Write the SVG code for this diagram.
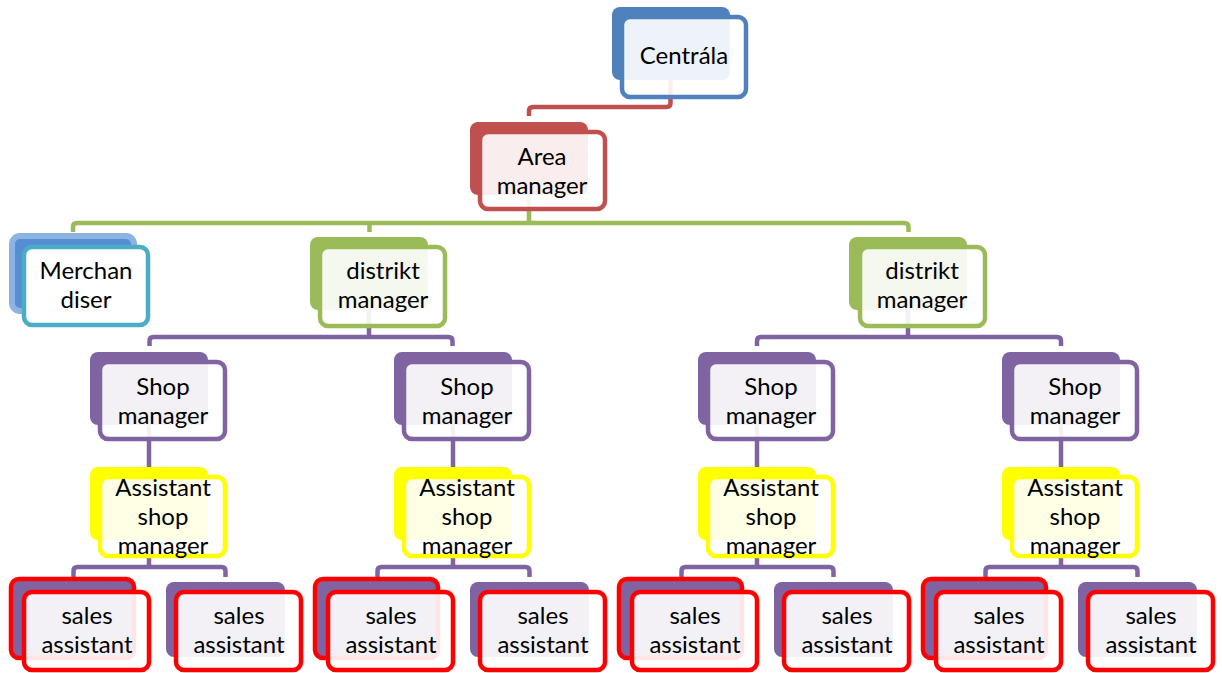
<svg xmlns="http://www.w3.org/2000/svg" width="1222" height="673" viewBox="0 0 1222 673">
<style>
.t{font-family:Lato,"Open Sans","Liberation Sans",sans-serif;font-size:24px;fill:#000;text-anchor:middle}
.c{fill:none;stroke-width:4.5;stroke-linejoin:round}
.f{stroke-width:4.5;fill:#fff;fill-opacity:0.9}
.b{stroke:none}
</style>
<rect width="1222" height="673" fill="#fff"/>
<g id="connectors">
<path class="c" stroke="#C0504D" d="M670.5,80 V103 Q670.5,107 666.5,107 H533 Q529,107 529,111 V116"/>
<path class="c" stroke="#9BBB59" d="M529,193 V223 M73,232 V227 Q73,223 77,223 H904.5 Q908.5,223 908.5,227 V232 M369.5,223 V232"/>
<path class="c" stroke="#8064A2" d="M369,310 V337 M149.5,346 V341 Q149.5,337 153.5,337 H448.5 Q452.5,337 452.5,341 V346"/>
<path class="c" stroke="#8064A2" d="M908,310 V337 M757,346 V341 Q757,337 761,337 H1057 Q1061,337 1061,341 V346"/>
<path class="c" stroke="#8064A2" d="M149,425 V467 M453,425 V467 M757,425 V467 M1061,425 V467"/>
<path class="c" stroke="#8064A2" d="M149,540 V567 M73.5,577 V571 Q73.5,567 77.5,567 H221.5 Q225.5,567 225.5,571 V577"/>
<path class="c" stroke="#8064A2" d="M453,540 V567 M377.5,577 V571 Q377.5,567 381.5,567 H525.5 Q529.5,567 529.5,571 V577"/>
<path class="c" stroke="#8064A2" d="M757,540 V567 M681.5,577 V571 Q681.5,567 685.5,567 H829.5 Q833.5,567 833.5,571 V577"/>
<path class="c" stroke="#8064A2" d="M1061,540 V567 M985.5,577 V571 Q985.5,567 989.5,567 H1133.5 Q1137.5,567 1137.5,571 V577"/>
</g>
<g id="centrala">
<rect class="b" x="612" y="7" width="118" height="73" rx="8" fill="#4F81BD"/>
<rect class="f" x="622" y="17" width="124" height="80" rx="8" stroke="#4F81BD"/>
<text class="t" x="684" y="64">Centrála</text>
</g>
<g id="area">
<rect class="b" x="470" y="122" width="118" height="73" rx="8" fill="#C0504D"/>
<rect class="f" x="480" y="132" width="125" height="77" rx="8" stroke="#C0504D"/>
<text class="t" x="542" y="165">Area</text>
<text class="t" x="542" y="194">manager</text>
</g>
<g id="merchandiser">
<rect x="12" y="236" width="122" height="75" rx="8" fill="#558ED5" stroke="#8DB3E2" stroke-width="6"/>
<rect x="24" y="247" width="124" height="78" rx="8" fill="#fff" stroke="#4BACC6" stroke-width="4.5"/>
<text class="t" x="86" y="279">Merchan</text>
<text class="t" x="86" y="308">diser</text>
</g>
<g id="distrikt1">
<rect class="b" x="310" y="237" width="118" height="73" rx="8" fill="#9BBB59"/>
<rect class="f" x="320" y="247" width="125" height="79" rx="8" stroke="#9BBB59"/>
<text class="t" x="383" y="279">distrikt</text>
<text class="t" x="383" y="308">manager</text>
</g>
<g id="distrikt2">
<rect class="b" x="849" y="237" width="118" height="73" rx="8" fill="#9BBB59"/>
<rect class="f" x="860" y="247" width="125" height="79" rx="8" stroke="#9BBB59"/>
<text class="t" x="922" y="279">distrikt</text>
<text class="t" x="922" y="308">manager</text>
</g>
<g id="shop1">
<rect class="b" x="90" y="352" width="118" height="73" rx="8" fill="#8064A2"/>
<rect class="f" x="100" y="362" width="125" height="77" rx="8" stroke="#8064A2"/>
<text class="t" x="163" y="395">Shop</text>
<text class="t" x="163" y="424">manager</text>
</g>
<g id="shop2">
<rect class="b" x="394" y="352" width="118" height="73" rx="8" fill="#8064A2"/>
<rect class="f" x="404" y="362" width="125" height="77" rx="8" stroke="#8064A2"/>
<text class="t" x="467" y="395">Shop</text>
<text class="t" x="467" y="424">manager</text>
</g>
<g id="shop3">
<rect class="b" x="698" y="352" width="118" height="73" rx="8" fill="#8064A2"/>
<rect class="f" x="708" y="362" width="125" height="77" rx="8" stroke="#8064A2"/>
<text class="t" x="771" y="395">Shop</text>
<text class="t" x="771" y="424">manager</text>
</g>
<g id="shop4">
<rect class="b" x="1002" y="352" width="118" height="73" rx="8" fill="#8064A2"/>
<rect class="f" x="1012" y="362" width="125" height="77" rx="8" stroke="#8064A2"/>
<text class="t" x="1075" y="395">Shop</text>
<text class="t" x="1075" y="424">manager</text>
</g>
<g id="assistant1">
<rect class="b" x="90" y="467" width="118" height="73" rx="8" fill="#FFFF00"/>
<rect class="f" x="100" y="477" width="125" height="79" rx="8" stroke="#FFFF00"/>
<text class="t" x="163" y="496">Assistant</text>
<text class="t" x="163" y="525">shop</text>
<text class="t" x="163" y="554">manager</text>
</g>
<g id="assistant2">
<rect class="b" x="394" y="467" width="118" height="73" rx="8" fill="#FFFF00"/>
<rect class="f" x="404" y="477" width="125" height="79" rx="8" stroke="#FFFF00"/>
<text class="t" x="467" y="496">Assistant</text>
<text class="t" x="467" y="525">shop</text>
<text class="t" x="467" y="554">manager</text>
</g>
<g id="assistant3">
<rect class="b" x="698" y="467" width="118" height="73" rx="8" fill="#FFFF00"/>
<rect class="f" x="708" y="477" width="125" height="79" rx="8" stroke="#FFFF00"/>
<text class="t" x="771" y="496">Assistant</text>
<text class="t" x="771" y="525">shop</text>
<text class="t" x="771" y="554">manager</text>
</g>
<g id="assistant4">
<rect class="b" x="1002" y="467" width="118" height="73" rx="8" fill="#FFFF00"/>
<rect class="f" x="1012" y="477" width="125" height="79" rx="8" stroke="#FFFF00"/>
<text class="t" x="1075" y="496">Assistant</text>
<text class="t" x="1075" y="525">shop</text>
<text class="t" x="1075" y="554">manager</text>
</g>
<g id="sales1">
<rect x="11" y="579" width="123" height="79" rx="8" fill="#8064A2" stroke="#FF0000" stroke-width="4.5"/>
<rect class="f" x="24" y="592" width="125" height="78" rx="8" stroke="#FF0000"/>
<text class="t" x="87" y="624">sales</text>
<text class="t" x="87" y="653">assistant</text>
</g>
<g id="sales2">
<rect class="b" x="166" y="582" width="119" height="75" rx="8" fill="#8064A2"/>
<rect class="f" x="176" y="592" width="125" height="78" rx="8" stroke="#FF0000"/>
<text class="t" x="239" y="624">sales</text>
<text class="t" x="239" y="653">assistant</text>
</g>
<g id="sales3">
<rect x="315" y="579" width="123" height="79" rx="8" fill="#8064A2" stroke="#FF0000" stroke-width="4.5"/>
<rect class="f" x="328" y="592" width="125" height="78" rx="8" stroke="#FF0000"/>
<text class="t" x="391" y="624">sales</text>
<text class="t" x="391" y="653">assistant</text>
</g>
<g id="sales4">
<rect class="b" x="470" y="582" width="119" height="75" rx="8" fill="#8064A2"/>
<rect class="f" x="480" y="592" width="125" height="78" rx="8" stroke="#FF0000"/>
<text class="t" x="543" y="624">sales</text>
<text class="t" x="543" y="653">assistant</text>
</g>
<g id="sales5">
<rect x="619" y="579" width="123" height="79" rx="8" fill="#8064A2" stroke="#FF0000" stroke-width="4.5"/>
<rect class="f" x="632" y="592" width="125" height="78" rx="8" stroke="#FF0000"/>
<text class="t" x="695" y="624">sales</text>
<text class="t" x="695" y="653">assistant</text>
</g>
<g id="sales6">
<rect class="b" x="774" y="582" width="119" height="75" rx="8" fill="#8064A2"/>
<rect class="f" x="784" y="592" width="125" height="78" rx="8" stroke="#FF0000"/>
<text class="t" x="847" y="624">sales</text>
<text class="t" x="847" y="653">assistant</text>
</g>
<g id="sales7">
<rect x="923" y="579" width="123" height="79" rx="8" fill="#8064A2" stroke="#FF0000" stroke-width="4.5"/>
<rect class="f" x="936" y="592" width="125" height="78" rx="8" stroke="#FF0000"/>
<text class="t" x="999" y="624">sales</text>
<text class="t" x="999" y="653">assistant</text>
</g>
<g id="sales8">
<rect class="b" x="1078" y="582" width="119" height="75" rx="8" fill="#8064A2"/>
<rect class="f" x="1088" y="592" width="125" height="78" rx="8" stroke="#FF0000"/>
<text class="t" x="1151" y="624">sales</text>
<text class="t" x="1151" y="653">assistant</text>
</g>
</svg>
